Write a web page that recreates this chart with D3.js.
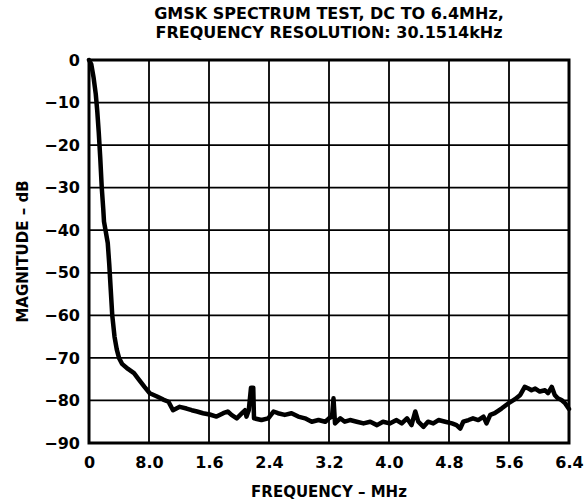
<!DOCTYPE html>
<html>
<head>
<meta charset="utf-8">
<script src="https://cdn.jsdelivr.net/npm/d3@7"></script>
<style>
  body { margin: 0; background: #fff; }
  text { font-family: "DejaVu Sans", "Liberation Sans", Arial, sans-serif; font-weight: bold; fill: #000; }
</style>
</head>
<body>
<svg id="chart" width="585" height="502"></svg>
<script>
// spectrum trace (MHz, dB)
const freq = [
  0.00, 0.03, 0.06, 0.09, 0.11, 0.13, 0.15, 0.17, 0.19, 0.20, 0.22, 0.25, 0.27, 0.29, 0.31,
  0.34, 0.37, 0.40, 0.44, 0.52, 0.60, 0.66, 0.74, 0.81, 0.90, 0.99, 1.06, 1.12, 1.21, 1.30,
  1.37, 1.44, 1.52, 1.61, 1.70, 1.79, 1.85, 1.90, 1.97, 2.04, 2.08, 2.10, 2.13, 2.16, 2.19,
  2.20, 2.30, 2.39, 2.46, 2.52, 2.61, 2.70, 2.79, 2.88, 2.97, 3.06, 3.15, 3.20, 3.24, 3.26,
  3.28, 3.35, 3.41, 3.48, 3.57, 3.66, 3.75, 3.84, 3.92, 4.01, 4.10, 4.17, 4.24, 4.30, 4.35,
  4.39, 4.46, 4.52, 4.59, 4.66, 4.75, 4.84, 4.90, 4.95, 4.99, 5.06, 5.12, 5.19, 5.26, 5.30,
  5.35, 5.41, 5.50, 5.59, 5.68, 5.75, 5.81, 5.86, 5.90, 5.95, 6.01, 6.08, 6.12, 6.17, 6.21,
  6.25, 6.30, 6.35, 6.40
];
const magnitude = [
  0, -1, -4, -8, -12, -17, -23, -30, -35, -38, -40, -43, -48, -54, -60,
  -65, -68, -70, -71.4, -72.6, -73.6, -75, -76.8, -78.3, -79, -79.8, -80.3, -82.3, -81.5, -81.9,
  -82.3, -82.6, -83, -83.3, -83.8, -83, -82.6, -83.4, -84.2, -83, -82.3, -83.8, -82.3, -77, -77,
  -84.2, -84.6, -84.2, -82.6, -83, -83.4, -83, -83.8, -84.2, -85, -84.6, -85, -84.2, -83.8, -79.5,
  -85.4, -84.2, -85, -84.6, -85, -85.4, -85, -85.8, -85, -85.4, -84.6, -85.4, -84.2, -85.8, -82.6,
  -85, -86.2, -85, -85.4, -84.6, -85, -85.4, -85.8, -86.6, -85, -84.6, -84.2, -84.6, -83.8, -85.4,
  -83.4, -83, -81.9, -80.7, -79.7, -78.7, -76.8, -77.2, -77.6, -77.2, -77.9, -77.6, -78.3, -76.8, -78.7,
  -79.5, -79.9, -80.7, -82
];

const xTicks = [0, 0.8, 1.6, 2.4, 3.2, 4.0, 4.8, 5.6, 6.4];
// the original sheet prints "8.0" under the 0.8 MHz line
const xTickLabels = ["0", "8.0", "1.6", "2.4", "3.2", "4.0", "4.8", "5.6", "6.4"];
const yTicks = [0, -10, -20, -30, -40, -50, -60, -70, -80, -90];

const titleLines = ["GMSK SPECTRUM TEST, DC TO 6.4MHz,", "FREQUENCY RESOLUTION: 30.1514kHz"];

const margin = { top: 60, right: 16, bottom: 59, left: 89 };
const svg = d3.select("#chart");
const width = +svg.attr("width") - margin.left - margin.right;
const height = +svg.attr("height") - margin.top - margin.bottom;

const x = d3.scaleLinear().domain([0, 6.4]).range([0, width]);
const y = d3.scaleLinear().domain([-90, 0]).range([height, 0]);

const g = svg.append("g").attr("transform", `translate(${margin.left},${margin.top})`);

// grid
g.append("g")
  .selectAll("line")
  .data(xTicks.slice(1, -1))
  .join("line")
  .attr("x1", d => x(d)).attr("x2", d => x(d))
  .attr("y1", 0).attr("y2", height)
  .attr("stroke", "#000").attr("stroke-width", 1.8);

g.append("g")
  .selectAll("line")
  .data(yTicks.slice(1, -1))
  .join("line")
  .attr("x1", 0).attr("x2", width)
  .attr("y1", d => y(d)).attr("y2", d => y(d))
  .attr("stroke", "#000").attr("stroke-width", 1.8);

// axes (labels only, frame drawn separately)
const xAxis = g.append("g")
  .attr("transform", `translate(0,${height})`)
  .call(d3.axisBottom(x).tickValues(xTicks).tickSize(0).tickPadding(14)
    .tickFormat((d, i) => xTickLabels[i]));
xAxis.select(".domain").remove();
xAxis.selectAll("text").style("font-size", "16px").style("font-family", null);

const yAxis = g.append("g")
  .call(d3.axisLeft(y).tickValues(yTicks).tickSize(0).tickPadding(9)
    .tickFormat(d => d === 0 ? "0" : "\u2212" + Math.abs(d)));
yAxis.select(".domain").remove();
yAxis.selectAll("text").style("font-size", "16px").style("font-family", null);

// trace
const line = d3.line()
  .x((d, i) => x(freq[i]))
  .y(d => y(d));

g.append("path")
  .datum(magnitude)
  .attr("d", line)
  .attr("fill", "none")
  .attr("stroke", "#000")
  .attr("stroke-width", 4.5)
  .attr("stroke-linejoin", "round")
  .attr("stroke-linecap", "round");

// frame
g.append("rect")
  .attr("width", width).attr("height", height)
  .attr("fill", "none")
  .attr("stroke", "#000").attr("stroke-width", 3);

// titles
svg.append("g")
  .selectAll("text")
  .data(titleLines)
  .join("text")
  .attr("x", margin.left + width / 2)
  .attr("y", (d, i) => 19 + i * 19)
  .attr("text-anchor", "middle")
  .style("font-size", "16px")
  .text(d => d);

svg.append("text")
  .attr("x", margin.left + width / 2)
  .attr("y", 497)
  .attr("text-anchor", "middle")
  .style("font-size", "15px")
  .text("FREQUENCY \u2013 MHz");

svg.append("text")
  .attr("transform", `translate(28,${margin.top + height / 2}) rotate(-90)`)
  .attr("text-anchor", "middle")
  .style("font-size", "15px")
  .text("MAGNITUDE \u2013 dB");
</script>
</body>
</html>
